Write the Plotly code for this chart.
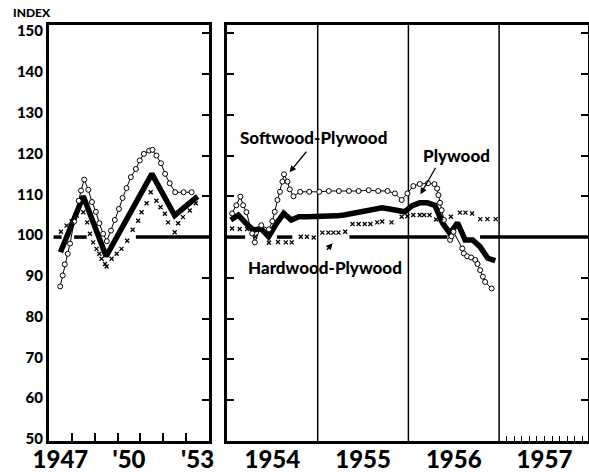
import plotly.graph_objects as go

# ---- data --------------------------------------------------------------
# left panel, 1947-1953 (fractional years)
ply_left_t = [1947.5, 1948.5, 1949.5, 1950.5, 1951.5, 1952.5, 1953.5]
ply_left_v = [96.3, 110.0, 95.3, 105.3, 115.5, 105.3, 110.0]

soft_left_t = [1947.49, 1947.60, 1947.69, 1947.82, 1947.92, 1948.10, 1948.30, 1948.40,
               1948.54, 1948.72, 1948.88, 1949.05, 1949.20, 1949.37, 1949.53, 1949.71,
               1949.88, 1950.06, 1950.22, 1950.39, 1950.58, 1950.80, 1950.97, 1951.15,
               1951.38, 1951.53, 1951.70, 1951.90, 1952.08, 1952.28, 1952.52, 1952.89,
               1953.24]
soft_left_v = [87.9, 90.6, 93.3, 95.9, 98.4, 103.8, 108.9, 111.4,
               114.1, 111.6, 108.6, 106.2, 103.4, 100.8, 99.0, 101.6,
               104.2, 106.9, 109.6, 112.0, 114.7, 116.7, 118.8, 120.4,
               121.2, 121.4, 120.0, 118.1, 115.5, 113.2, 111.0, 111.0,
               111.0]

hard_left_t = [1947.52, 1947.77, 1947.99, 1948.21, 1948.50, 1948.67, 1948.79, 1948.93,
               1949.08, 1949.20, 1949.30, 1949.45, 1949.52, 1949.74, 1949.96, 1950.17,
               1950.42, 1950.66, 1950.90, 1951.05, 1951.27, 1951.45, 1951.70, 1951.88,
               1952.07, 1952.21, 1952.50, 1952.65, 1952.86, 1953.16, 1953.42]
hard_left_v = [101.3, 102.8, 103.9, 105.3, 106.1, 103.6, 100.8, 98.7,
               97.1, 95.9, 94.7, 93.4, 92.8, 94.7, 95.9, 97.1,
               99.1, 101.8, 104.0, 106.1, 108.3, 111.0, 108.9, 107.3,
               105.7, 103.6, 101.2, 103.4, 104.9, 106.5, 108.3]

# right panel, monthly 1954-1956 for plywood
ply_months = [1954 + (m + 0.5) / 12 for m in range(36)]
ply_right_v = [104.2, 105.4, 103.4, 101.7, 102.1, 100.1, 103.2, 105.8, 104.2, 105.0, 105.0, 105.0,
               105.0, 105.0, 105.2, 105.4, 105.8, 106.3, 106.6, 107.0, 107.2, 106.9, 106.6, 106.2,
               107.7, 108.4, 108.4, 107.8, 103.5, 100.9, 103.5, 99.3, 99.3, 97.6, 94.8, 94.2]

soft_right_t = [1954.056, 1954.103, 1954.148, 1954.178, 1954.214, 1954.278, 1954.307, 1954.378,
                1954.462, 1954.500, 1954.526, 1954.556, 1954.584, 1954.611, 1954.629, 1954.667,
                1954.692, 1954.733, 1954.807, 1954.907, 1955.018, 1955.122, 1955.233, 1955.344,
                1955.451, 1955.562, 1955.667, 1955.770, 1955.851, 1955.926, 1955.989, 1956.054,
                1956.125, 1956.216, 1956.287, 1956.317, 1956.331, 1956.349, 1956.367, 1956.392,
                1956.460, 1956.475, 1956.497, 1956.594, 1956.611, 1956.648, 1956.691, 1956.737,
                1956.762, 1956.791, 1956.821, 1956.845, 1956.918]
soft_right_v = [105.8, 107.8, 109.9, 107.8, 106.1, 100.9, 98.7, 102.9,
                101.9, 103.9, 106.2, 109.1, 111.1, 113.6, 115.4, 113.6,
                111.7, 110.0, 111.1, 111.1, 111.1, 111.3, 111.3, 111.3,
                111.3, 111.5, 111.3, 111.3, 110.7, 109.1, 110.7, 112.5,
                113.0, 113.2, 113.0, 111.9, 110.3, 108.4, 106.6, 104.2,
                99.3, 100.2, 101.3, 97.2, 96.0, 95.3, 95.0, 94.4,
                93.4, 91.9, 90.3, 89.0, 87.4]

hard_right_t = [1954.056, 1954.140, 1954.222, 1954.311, 1954.462, 1954.562, 1954.648, 1954.714,
                1954.814, 1954.881, 1954.956, 1955.051, 1955.118, 1955.173, 1955.229, 1955.303,
                1955.384, 1955.451, 1955.518, 1955.581, 1955.656, 1955.711, 1955.814, 1955.926,
                1955.989, 1956.054, 1956.125, 1956.173, 1956.233, 1956.306, 1956.360, 1956.468,
                1956.568, 1956.629, 1956.702, 1956.792, 1956.871, 1956.962]
hard_right_v = [102.1, 102.0, 102.0, 100.1, 98.6, 98.8, 98.7, 98.7,
                100.1, 100.1, 99.9, 101.1, 101.1, 101.1, 101.1, 101.3,
                103.2, 103.2, 103.2, 103.2, 103.6, 103.8, 103.6, 105.0,
                105.1, 105.4, 105.4, 105.4, 105.4, 104.3, 104.6, 105.0,
                106.0, 106.0, 105.8, 104.4, 104.4, 104.4]

left_labels = ["1947", "'50", "'53"]
right_labels = ["1954", "1955", "1956", "1957"]
y_ticks = list(range(50, 151, 10))
BASE = 100

# visible stretches of the 100 line (it is broken where the curves pass)
base_left_spans = [(1947.2, 1947.55), (1948.1, 1948.65), (1950.8, 1954.0)]
base_right_spans = [(1954.0, 1954.2), (1954.55, 1954.72), (1955.35, 1956.43), (1956.79, 1957.98)]

FONT = "Lato, Roboto, DejaVu Sans, sans-serif"
W, H = 589, 472


def spans_xy(spans):
    xs, ys = [], []
    for a, b in spans:
        xs += [a, b, None]
        ys += [BASE, BASE, None]
    return xs, ys


def add_series(fig, xa, ya, ply_t, ply_v, soft_t, soft_v, hard_t, hard_v):
    fig.add_trace(go.Scatter(x=ply_t, y=ply_v, mode="lines", xaxis=xa, yaxis=ya,
                             line=dict(color="black", width=5.5)))
    fig.add_trace(go.Scatter(x=soft_t, y=soft_v, mode="lines+markers", xaxis=xa, yaxis=ya,
                             line=dict(color="black", width=1),
                             marker=dict(symbol="circle", size=5, color="white",
                                         line=dict(color="black", width=1))))
    fig.add_trace(go.Scatter(x=hard_t, y=hard_v, mode="markers", xaxis=xa, yaxis=ya,
                             marker=dict(symbol="x-thin", size=4,
                                         line=dict(color="black", width=1.3))))


fig = go.Figure()

bx, by = spans_xy(base_left_spans)
fig.add_trace(go.Scatter(x=bx, y=by, mode="lines", xaxis="x", yaxis="y3",
                         line=dict(color="black", width=3.5)))
bx, by = spans_xy(base_right_spans)
fig.add_trace(go.Scatter(x=bx, y=by, mode="lines", xaxis="x2", yaxis="y2",
                         line=dict(color="black", width=3.5)))

add_series(fig, "x", "y", ply_left_t, ply_left_v, soft_left_t, soft_left_v, hard_left_t, hard_left_v)
add_series(fig, "x2", "y2", ply_months, ply_right_v, soft_right_t, soft_right_v, hard_right_t, hard_right_v)

y_dom = [31 / H, 447 / H]
y_rng = [50, 152]
tickfont = dict(family=FONT, size=15, color="black", weight=900)
yearfont = dict(family=FONT, size=24, color="black", weight=900)

fig.update_layout(
    width=W, height=H, autosize=False,
    margin=dict(l=0, r=0, t=0, b=0),
    paper_bgcolor="white", plot_bgcolor="white",
    showlegend=False,
    xaxis=dict(domain=[49 / W, 209 / W], range=[1947, 1954], automargin=False,
               tickvals=[1947.5, 1950.5, 1953.5], ticktext=left_labels,
               ticks="", tickfont=yearfont, ticklabelstandoff=-5,
               showgrid=False, zeroline=False,
               showline=True, linewidth=3, linecolor="black", mirror=True,
               minor=dict(tickvals=[1948, 1949, 1950, 1951, 1952, 1953], ticks="inside",
                          ticklen=8, tickwidth=1.5, tickcolor="black", showgrid=False),
               anchor="y"),
    yaxis=dict(domain=y_dom, range=y_rng, tickvals=y_ticks, ticks="", automargin=False,
               tickfont=tickfont, ticklabelshift=-2, showgrid=False, zeroline=False,
               showline=True, linewidth=3, linecolor="black", mirror=True, anchor="x"),
    yaxis3=dict(overlaying="y", side="right", anchor="x", range=y_rng, tickvals=y_ticks,
                ticks="inside", ticklen=7, tickwidth=1.5, tickcolor="black", automargin=False,
                showticklabels=False, showgrid=False, zeroline=False, showline=False),
    xaxis2=dict(domain=[227 / W, 588 / W], range=[1954, 1957.98], automargin=False,
                tickvals=[1954.5, 1955.5, 1956.5, 1957.5], ticktext=right_labels,
                ticks="", tickfont=yearfont, ticklabelstandoff=-5,
                showgrid=False, zeroline=False,
                showline=True, linewidth=2.5, linecolor="black", mirror=True,
                minor=dict(tickvals=[1957 + k / 12 for k in range(1, 12)], ticks="inside",
                           ticklen=5, tickwidth=1, tickcolor="black", showgrid=False),
                anchor="y2"),
    yaxis2=dict(domain=y_dom, range=y_rng, tickvals=y_ticks, ticks="inside", automargin=False,
                ticklen=7, tickwidth=1.5, tickcolor="black", showticklabels=False,
                showgrid=False, zeroline=False, showline=True, linewidth=2.5,
                linecolor="black", mirror="ticks", anchor="x2"),
)

# year dividers in the monthly panel
for yr in (1955, 1956, 1957):
    fig.add_shape(type="line", xref="x2", yref="y2 domain", x0=yr, x1=yr, y0=0, y1=1,
                  line=dict(color="black", width=1.5), layer="below")

lab = dict(family=FONT, size=17, color="black", weight=900)
fig.add_annotation(text="INDEX", xref="paper", yref="paper", x=31.5 / W, y=1 - 12 / H,
                   xanchor="center", yanchor="middle", showarrow=False,
                   font=dict(family=FONT, size=12, color="black", weight=900))
fig.add_annotation(text="Softwood-Plywood", xref="x2", yref="y2", x=1954.95, y=124.5,
                   showarrow=False, font=lab)
fig.add_annotation(text="", xref="x2", yref="y2", x=1954.69, y=115.9, ax=18, ay=-22,
                   showarrow=True, arrowhead=2, arrowsize=1, arrowwidth=1.3, arrowcolor="black")
fig.add_annotation(text="Plywood", xref="x2", yref="y2", x=1956.533, y=120.1,
                   showarrow=False, font=lab)
fig.add_annotation(text="", xref="x2", yref="y2", x=1956.133, y=110.5, ax=16, ay=-28,
                   showarrow=True, arrowhead=2, arrowsize=1, arrowwidth=1.3, arrowcolor="black")
fig.add_annotation(text="Hardwood-Plywood", xref="x2", yref="y2", x=1955.08, y=92.6,
                   showarrow=False, font=lab)
fig.add_annotation(text="", xref="x2", yref="y2", x=1955.164, y=98.5, ax=-7, ay=8,
                   showarrow=True, arrowhead=2, arrowsize=1, arrowwidth=1.3, arrowcolor="black")

# the page body has an 8px default margin; drop it so the chart sits at the window corner
fig.write_html("out.html", config={"displayModeBar": False},
               post_script="document.body.style.margin='0px';")
